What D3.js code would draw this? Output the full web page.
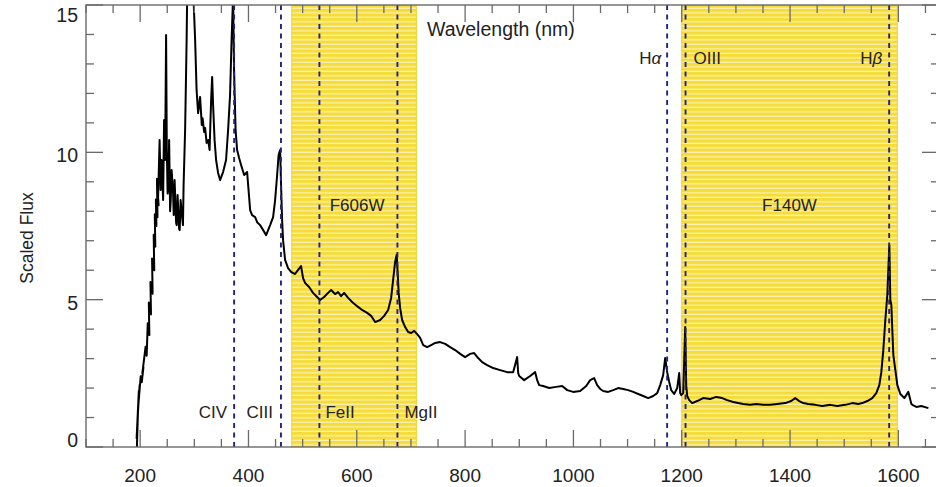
<!DOCTYPE html>
<html><head><meta charset="utf-8">
<script src="https://cdn.jsdelivr.net/npm/d3@7"></script>
<style>html,body{margin:0;padding:0;background:#fff;}svg{display:block;font-family:"Liberation Sans",Arial,sans-serif;}</style>
</head><body>
<svg id="c" width="936" height="487"></svg>
<script>
// ---- data ----
const wavelength = [194,196,193.5,197.5,195,199,197,201,203,206,204,210,212,214,217,216,220,219,223,222,226,225,228,227,230,229,232,231,234,233,235.9,237.8,239.6,242.4,244.2,246.1,247.9,249.2,250.7,252,253.5,255.3,256.5,258.1,260.8,262,263.6,266.4,267.5,269.1,271.9,273,274.7,277.5,279,280.2,283,285.8,287.6,290,299,301.5,304.2,307,308.8,310.6,313.8,315.3,318.1,319.9,322.7,325.5,328.2,331,332.9,334.7,337.4,340.2,343.9,347.6,353.1,358.6,362.4,366,368.8,371.6,373.4,376.2,379,382.7,386.4,392,397.5,403.1,406.7,412.3,416,421.5,427.1,432.6,440,445.5,449.2,452.9,455.6,458.4,460.2,462.1,463.9,467.6,473.1,478.6,486,491.6,497.1,500.8,504.5,511.9,519.3,526.7,532.2,539.6,547,552.6,560,565.5,571,576.6,584,591.4,600.6,609.8,619.1,626.5,633.9,643.1,650.5,657.9,663.4,667.1,670.8,673.6,675.4,677.3,680,683.7,689.3,694.8,700.4,705.9,711.5,717,722.6,729.9,737.3,744.7,753.9,763.2,772.4,781.6,790.9,800.1,809.3,816.7,824.1,831.5,840.7,851.8,864.7,877.6,888.7,896.1,898,899.8,909,920.1,929.3,933,936.7,944.1,955.2,968.1,979.2,988.5,999.5,1012.5,1023.6,1030.9,1038.3,1043.8,1049.4,1054.9,1064.2,1073.4,1082.6,1091.9,1101.1,1110.3,1119.6,1128.8,1138,1147.3,1154.7,1160.2,1165.7,1169.4,1173.1,1176.8,1180.5,1186,1191.6,1195.3,1197.1,1199,1202.7,1206.4,1208.2,1210.1,1213.8,1219.3,1228.5,1239.6,1252.5,1263.6,1274.7,1283.9,1295,1304.2,1313.5,1326.4,1337.5,1350.4,1363.3,1376.3,1391,1402.1,1409.5,1416.9,1424.3,1433.5,1446.5,1459.4,1474.2,1487.1,1501.9,1514.9,1525.9,1533.3,1542.6,1551.8,1559.2,1564.8,1568.5,1572.2,1575.9,1579.6,1581.4,1583.3,1585.1,1587,1588.8,1590.7,1594.4,1598.1,1603.6,1611,1618.4,1624,1625.8,1633.2,1642.4,1655.4,1670.1];
const flux = [0,1.2,0.3,1.9,0.9,2.1,1.5,2.4,2.2,2.7,2.5,3.4,3.1,4.2,3.8,4.9,4.5,5.6,5.2,6.4,6.0,7.2,6.8,7.9,7.5,8.4,7.8,9.1,8.2,8.38,10.42,8.72,9.74,8.38,11.10,9.74,13.98,10.08,8.6,8.89,10.42,8.0,8.38,9.40,8.6,7.87,9.06,7.6,7.53,8.55,7.4,7.36,8.38,7.8,7.53,8.89,10.76,13.81,16.5,16.2,15.0,13.81,12.11,11.33,11.60,11.88,10.93,11.16,10.69,10.83,10.32,10.42,10.08,11.77,12.56,11.60,10.42,9.74,9.30,9.06,9.33,9.74,10.76,11.94,13.81,15.3,12.79,10.76,10.08,9.81,9.57,9.23,9.33,8.04,7.87,7.80,7.63,7.53,7.36,7.19,7.53,7.80,8.38,9.23,9.91,10.08,8.89,7.70,7.02,6.35,6.07,5.94,5.87,6.01,6.14,5.73,5.57,5.43,5.23,5.09,4.99,5.09,5.23,5.33,5.19,5.26,5.12,5.23,5.06,4.92,4.78,4.65,4.55,4.45,4.24,4.31,4.45,4.65,5.06,5.67,6.28,6.52,5.94,5.23,4.72,4.31,4.07,3.90,3.87,3.94,3.83,3.70,3.46,3.39,3.46,3.53,3.56,3.50,3.39,3.29,3.16,3.05,3.16,3.19,3.02,2.88,2.78,2.68,2.61,2.54,2.54,3.05,2.51,2.41,2.27,2.41,2.54,2.27,2.10,2.07,2.00,2.04,2.07,1.93,1.87,1.90,2.07,2.27,2.34,2.10,1.97,1.90,1.87,1.93,2.00,1.97,1.93,1.87,1.80,1.73,1.66,1.73,1.83,2.10,2.44,3.02,2.54,2.21,1.93,1.80,2.00,2.51,1.83,1.76,1.83,4.07,2.10,1.73,1.59,1.49,1.56,1.66,1.63,1.70,1.66,1.59,1.53,1.49,1.46,1.43,1.46,1.43,1.43,1.46,1.49,1.56,1.66,1.56,1.49,1.46,1.43,1.39,1.43,1.39,1.43,1.49,1.46,1.49,1.56,1.66,1.83,2.10,2.54,3.29,4.31,5.16,6.01,6.85,4.99,4.82,3.97,3.12,2.61,2.10,1.80,1.66,1.87,1.46,1.43,1.36,1.39,1.32];
const lineNames = ["CIV","CIII","FeII","MgII","Hα","OIII","Hβ"];
const lineWavelengths = [373.5,460,531,675,1173,1207,1583];
const filterNames = ["F606W","F140W"];
const filterStart = [480,1200];
const filterEnd = [710,1598];
const xTicks = [200,400,600,800,1000,1200,1400,1600];
const yTicks = [0,5,10,15];

// ---- layout ----
const svg = d3.select("#c");
const L = 86, R = 939, T = 5, B = 447;
const x = d3.scaleLinear().domain([100,1675]).range([L,R]);
const y = d3.scaleLinear().domain([0,15]).range([B,T]);

const defs = svg.append("defs");
const pat = defs.append("pattern").attr("id","stripes").attr("patternUnits","userSpaceOnUse")
  .attr("width",8).attr("height",4.5);
pat.append("rect").attr("width",8).attr("height",4.5).attr("fill","#f6dc3a");
pat.append("rect").attr("y",3.2).attr("width",8).attr("height",1.3).attr("fill","#fcf2ae");
defs.append("clipPath").attr("id","clip").append("rect").attr("x",L).attr("y",T).attr("width",R-L).attr("height",B-T);

const plot = svg.append("g").attr("clip-path","url(#clip)");
// filter bands
plot.selectAll("rect.band").data(filterStart).join("rect").attr("class","band")
  .attr("x",(d)=>x(d)).attr("width",(d,i)=>x(filterEnd[i])-x(d))
  .attr("y",T).attr("height",B-T).attr("fill","url(#stripes)")
  .attr("stroke","#efd22a").attr("stroke-width",1);

// spectrum
const pts = wavelength.map((w,i)=>[w,flux[i]]);
plot.append("path").datum(pts)
  .attr("d",d3.line().x(d=>x(d[0])).y(d=>y(d[1])))
  .attr("fill","none").attr("stroke","#000").attr("stroke-width",2).attr("stroke-linejoin","round");

// emission line markers
plot.selectAll("line.em").data(lineWavelengths).join("line").attr("class","em")
  .attr("x1",d=>x(d)).attr("x2",d=>x(d)).attr("y1",T).attr("y2",B)
  .attr("stroke","#23237e").attr("stroke-width",1.9).attr("stroke-dasharray","5,4.5");

// axes frame & ticks
const axColor = "#6a6a6a";
const minorX = d3.range(100,1700,50), minorY = d3.range(0,16,1);
const tg = svg.append("g").attr("stroke",axColor).attr("stroke-width",1.3);
minorX.forEach(v=>{
  const len = (v%200===0)?17:8;
  if (x(v)<L-0.5||x(v)>R) return;
  tg.append("line").attr("x1",x(v)).attr("x2",x(v)).attr("y1",B).attr("y2",B-len);
  tg.append("line").attr("x1",x(v)).attr("x2",x(v)).attr("y1",T).attr("y2",T+len);
});
minorY.forEach(v=>{
  const len = (v%5===0)?17:8;
  tg.append("line").attr("x1",L).attr("x2",L+len).attr("y1",y(v)).attr("y2",y(v));
  tg.append("line").attr("x1",R).attr("x2",R-len).attr("y1",y(v)).attr("y2",y(v));
});
svg.append("rect").attr("x",L).attr("y",T).attr("width",R-L).attr("height",B-T)
  .attr("fill","none").attr("stroke",axColor).attr("stroke-width",1.4);

// tick labels
svg.append("g").selectAll("text").data(xTicks).join("text")
  .attr("x",d=>x(d)).attr("y",482).attr("text-anchor","middle")
  .attr("font-size",19).attr("fill","#222").text(d=>d);
const yLblShift = [0,10,10,17];
svg.append("g").selectAll("text").data(yTicks).join("text")
  .attr("x",78).attr("y",(d,i)=>y(d)+yLblShift[i]).attr("text-anchor","end")
  .attr("font-size",19.5).attr("fill","#222").text(d=>d);

// axis titles
svg.append("text").attr("transform","translate(33,238) rotate(-90)").attr("text-anchor","middle")
  .attr("font-size",17.5).attr("fill","#222").text("Scaled Flux");
svg.append("text").attr("x",427).attr("y",36).attr("font-size",19.5).attr("fill","#222").text("Wavelength (nm)");

// line labels
const lblOff = [-7,-8,6,7,-6,8,-7];
const lblAnchor = ["end","end","start","start","end","start","end"];
const lblY = [418,418,418,418,64,64,64];
const lg = svg.append("g").attr("font-size",17).attr("fill","#222");
lineNames.forEach((n,i)=>{
  const t = lg.append("text").attr("x",x(lineWavelengths[i])+lblOff[i]).attr("y",lblY[i]).attr("text-anchor",lblAnchor[i]);
  if (n.startsWith("H")) { t.append("tspan").text("H"); t.append("tspan").attr("font-style","italic").text(n.slice(1)); }
  else t.text(n);
});
// filter labels
filterNames.forEach((n,i)=>{
  lg.append("text").attr("x",(x(filterStart[i])+x(filterEnd[i]))/2 + (i===0? 3 : 0)).attr("y",211)
    .attr("text-anchor","middle").text(n);
});
</script>
</body></html>
